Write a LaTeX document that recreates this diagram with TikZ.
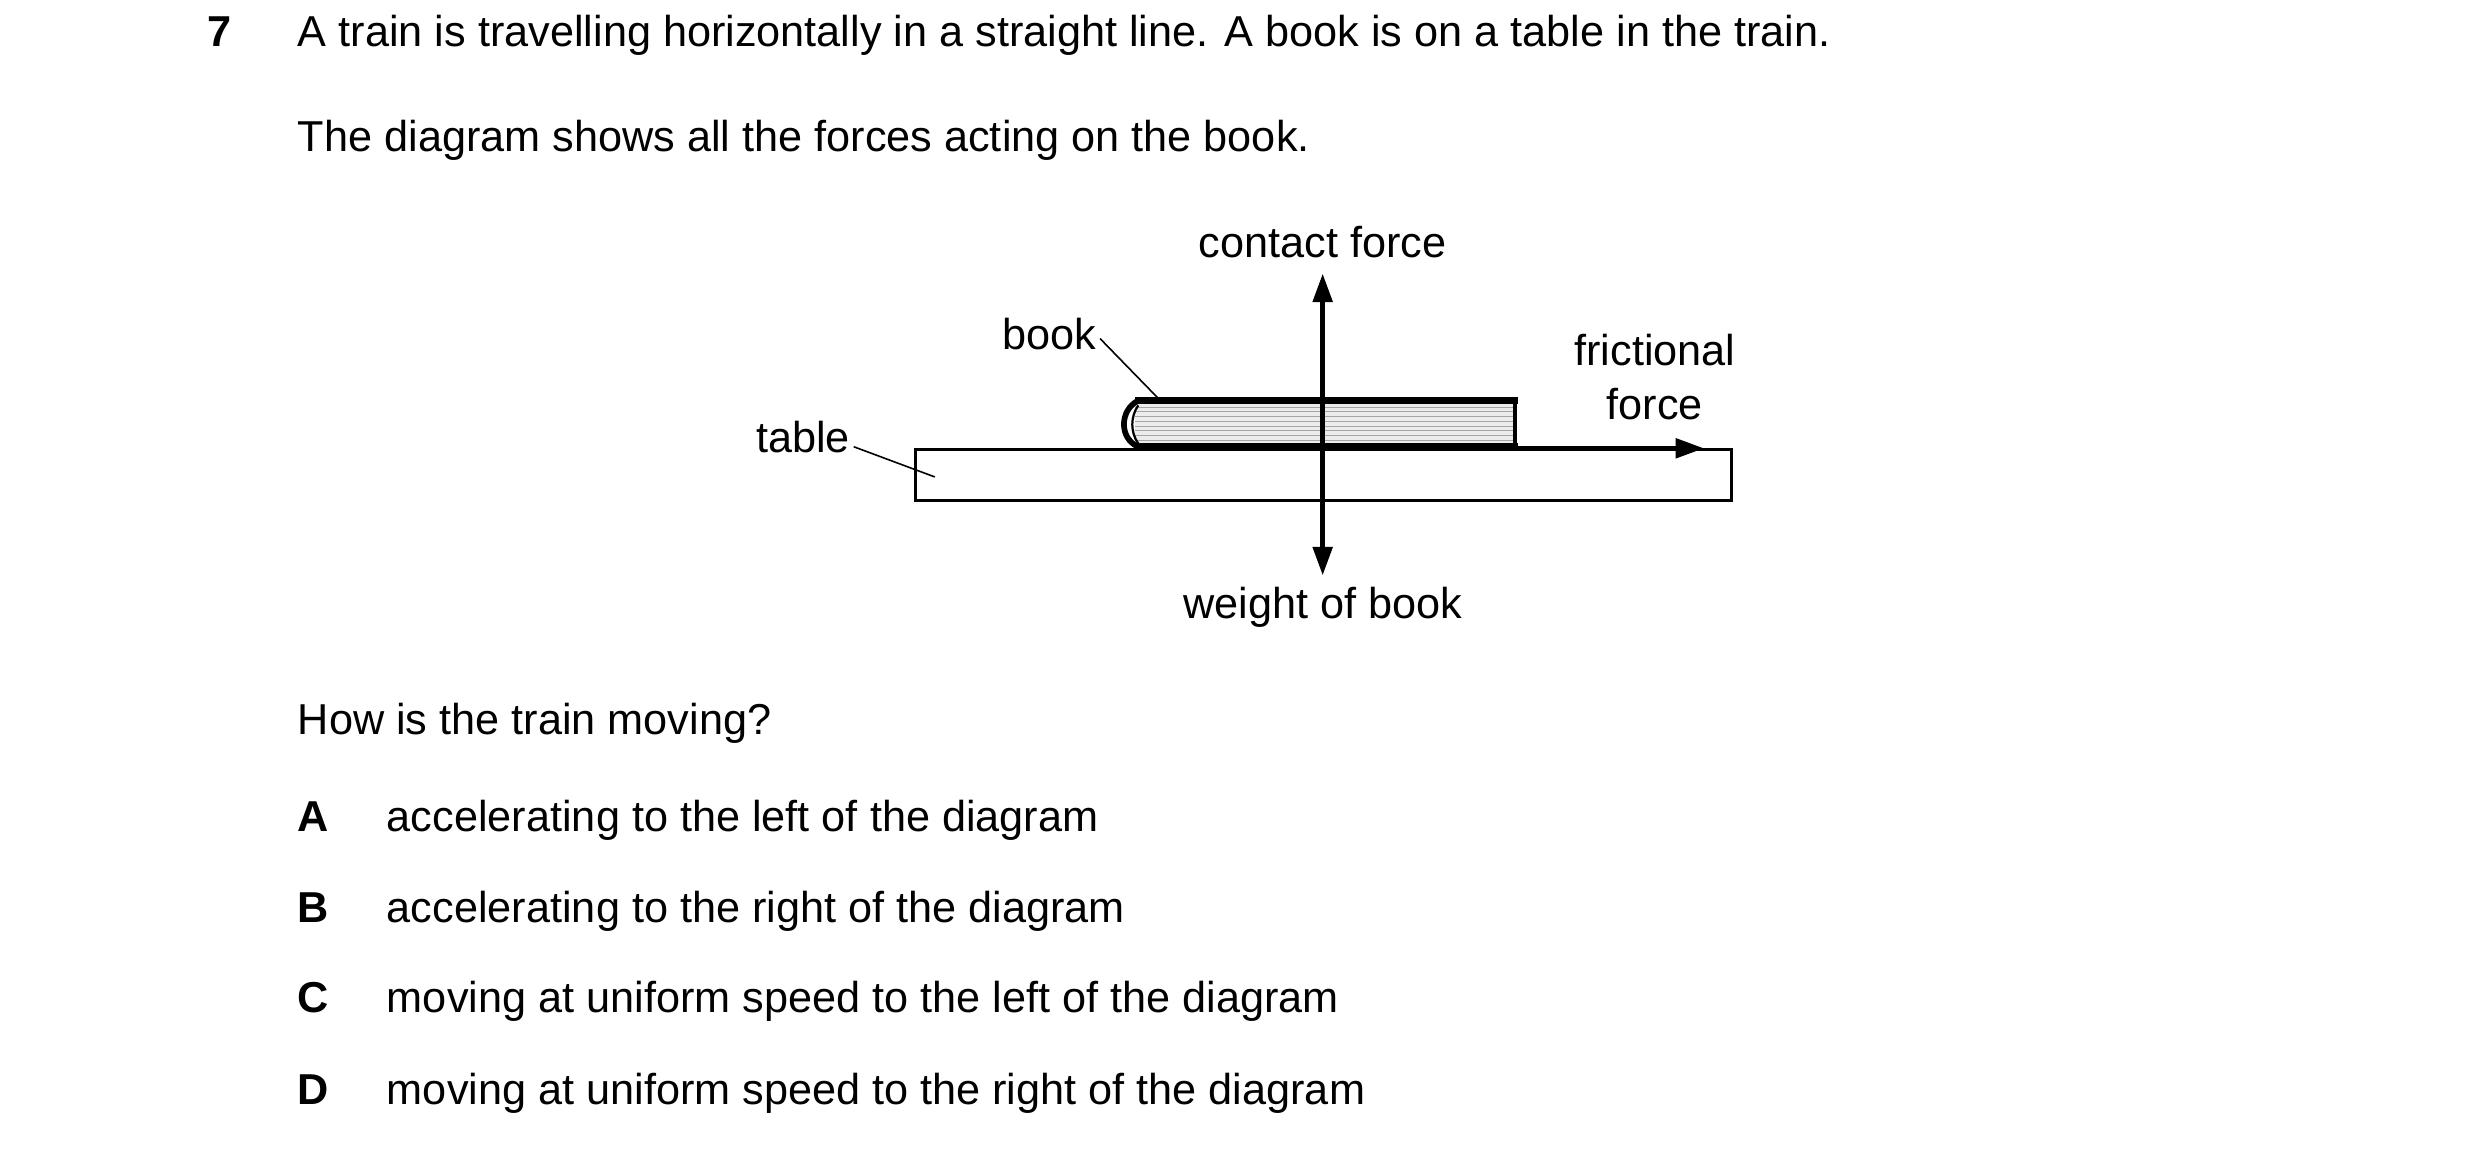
\documentclass[tikz,border=0pt]{standalone}
\usepackage{fontspec}
\setmainfont{Liberation Sans}
\usetikzlibrary{arrows.meta}
\begin{document}
\begin{tikzpicture}[x=0.5pt,y=-0.5pt,
  txt/.style={inner sep=0pt,font=\fontsize{13.6}{16}\selectfont},
  lbl/.style={txt,align=center},
  force/.style={line width=1.6pt,-{Triangle[length=9pt,width=6pt]}},
  lead/.style={line width=0.5pt}]
\useasboundingbox (0,0) rectangle (1560,723);
\node[txt,anchor=base west,font=\fontsize{13.6}{16}\selectfont\bfseries] (n7) at (130,29) {7};
\node[txt,anchor=base west] (q1) at (187,29) {A train is travelling horizontally in a straight line. A book is on a table in the train.};
\node[txt,anchor=base west] (q2) at (187,95) {The diagram shows all the forces acting on the book.};
% table
\draw[line width=1pt] (576,283) rectangle (1089,315);
% book
\fill[gray!15] (714,254) rectangle (952,280);
\foreach \y in {256,259,...,279} \draw[gray!70,line width=0.3pt] (714,\y) -- (952,\y);
\draw[line width=2.2pt] (714,252) -- (955,252);
\draw[line width=2.2pt] (714,281) -- (955,281);
\draw[line width=1pt] (953,252) -- (953,281);
\draw[line width=1.8pt] (716,252) .. controls (704,258) and (704,276) .. (716,281);
\draw[line width=0.7pt] (716,255) .. controls (711,262) and (711,272) .. (716,279);
\coordinate (bookc) at (832,266);
\coordinate (ctip) at (832,172);
\coordinate (wtip) at (832,362);
\coordinate (fs) at (955,282);
\coordinate (ftip) at (1072,282);
\draw[force] (bookc) -- (ctip);
\draw[force] (bookc) -- (wtip);
\draw[force] (fs) -- (ftip);
\node[lbl] (cf) at (832,152) {contact force};
\node[lbl] (wb) at (832,382) {weight of book};
\node[lbl] (ff) at (1041,237) {frictional\\[1pt]force};
\node[txt,anchor=east] (bk) at (690,210) {book};
\node[txt,anchor=east] (tb) at (535,275) {table};
\coordinate (bkend) at (728,250);
\coordinate (tbend) at (588,300);
\draw[lead] (bk.east) ++(2,3) -- (bkend);
\draw[lead] (tb.east) ++(2,6) -- (tbend);
\node[txt,anchor=base west] (q3) at (187,462) {How is the train moving?};
\foreach \L/\T/\y [count=\i] in {A/accelerating to the left of the diagram/523,
  B/accelerating to the right of the diagram/580,
  C/moving at uniform speed to the left of the diagram/637,
  D/moving at uniform speed to the right of the diagram/695}{
  \node[txt,anchor=base west,font=\fontsize{13.6}{16}\selectfont\bfseries] (l\i) at (187,\y) {\L};
  \node[txt,anchor=base west] (o\i) at (243,\y) {\T};
}
\end{tikzpicture}
\end{document}
